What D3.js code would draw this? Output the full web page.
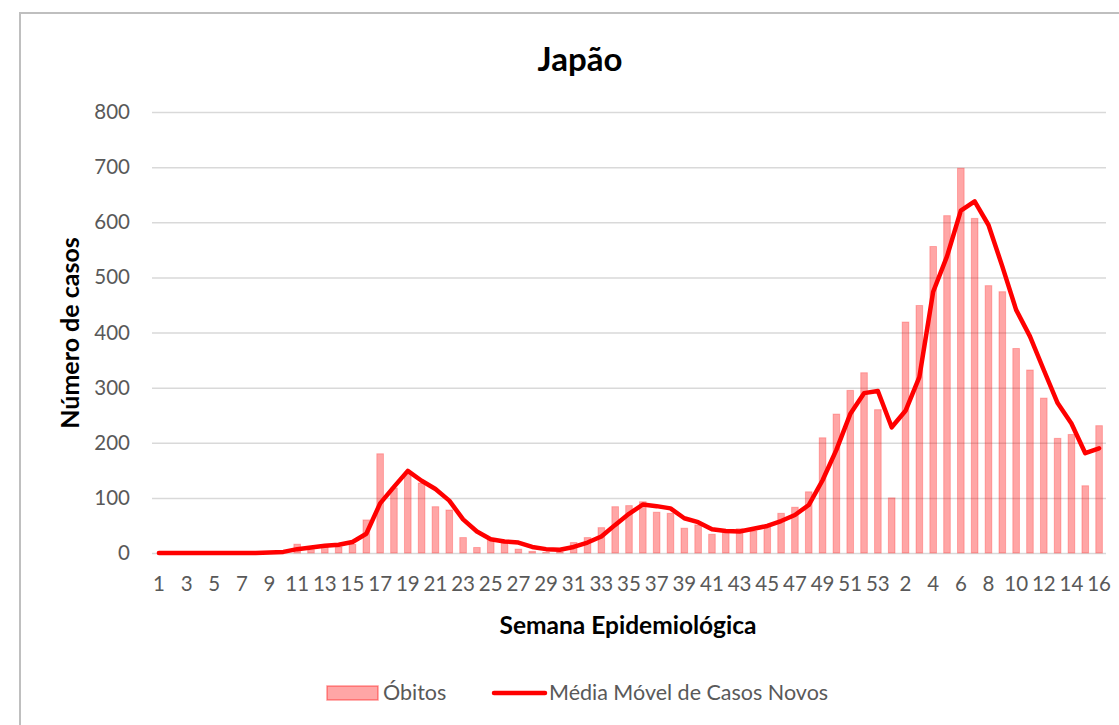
<!DOCTYPE html>
<html>
<head>
<meta charset="utf-8">
<script src="https://cdn.jsdelivr.net/npm/d3@7"></script>
<style>
    body { margin: 0; background: #fff; }
    #chartDiv { width: 1119px; height: 725px; }
    text { font-family: Lato, "Open Sans", sans-serif; }
</style>
</head>
<body>
<div id="chartDiv"></div>
<script>
// semanas: 2020 (1..53) e depois 2021 (1..16)
const weeks2020 = d3.range(1, 54)
const weeks2021 = d3.range(1, 17)

// obitos por semana (barras)
const obitos2020 = [0, 0, 0, 0, 0, 0, 0, 0, 0, 0,
    16, 6, 11, 11, 16, 60, 180, 118, 145, 127,
    84, 78, 28, 10, 25, 18, 7, 3, 1, 2,
    19, 28, 46, 84, 86, 93, 74, 72, 45, 51,
    34, 37, 44, 40, 48, 72, 83, 111, 209, 252,
    295, 327, 260]
const obitos2021 = [100, 419, 449, 556, 612, 698, 607, 485, 474, 371,
    332, 281, 208, 215, 122, 231]

// media movel de casos novos (linha)
const media2020 = [0, 0, 0, 0, 0, 0, 0, 0, 1, 2,
    7, 10, 13, 15, 20, 35, 90, 120, 149, 131,
    116, 95, 61, 39, 25, 21, 19, 11, 7, 6,
    11, 19, 30, 51, 71, 88, 85, 81, 63, 56,
    43, 40, 39, 44, 49, 58, 69, 87, 132, 187,
    252, 290, 294]
const media2021 = [228, 258, 319, 474, 538, 621, 638, 595, 520, 441,
    393, 332, 272, 235, 181, 190]

const yTicks = [0, 100, 200, 300, 400, 500, 600, 700, 800]

// juntar tudo num array so
let data = []
weeks2020.forEach((w, i) => data.push({ key: '2020-' + w, label: w, obitos: obitos2020[i], media: media2020[i] }))
weeks2021.forEach((w, i) => data.push({ key: '2021-' + w, label: w, obitos: obitos2021[i], media: media2021[i] }))

let chartDiv = document.getElementById("chartDiv");
let width = 1119;
let height = 725;

let svg = d3.select(chartDiv).append("svg")
    .attr("width", width)
    .attr("height", height);

// moldura do grafico
svg.append('rect')
    .attr('x', 20)
    .attr('y', 13)
    .attr('width', width)
    .attr('height', height)
    .attr('fill', 'none')
    .attr('stroke', '#bfbfbf')
    .attr('stroke-width', 2);

const margin = {
    top: 112,
    right: 13,
    bottom: 172,
    left: 152
};

let x = d3.scaleBand()
    .domain(data.map(d => d.key))
    .range([margin.left, width - margin.right])
    .paddingInner(0.52)
    .paddingOuter(0.26);

let y = d3.scaleLinear()
    .domain([0, 800])
    .range([height - margin.bottom, margin.top]);

// grade horizontal
let yAxis = d3.axisLeft(y)
    .tickValues(yTicks)
    .tickSize(-(width - margin.left - margin.right))
    .tickPadding(22)
    .tickFormat(d3.format('d'));

let gy = svg.append('g')
    .attr('class', 'axis yAxis')
    .attr('transform', `translate(${margin.left}, 0)`)
    .call(yAxis);
gy.select('.domain').remove();
gy.selectAll('.tick line')
    .attr('stroke', '#d9d9d9')
    .attr('stroke-width', 1.5);
gy.selectAll('.tick text')
    .attr('fill', '#595959')
    .style('font-size', '20.5px');

// eixo x - so mostra um rotulo sim outro nao
let xAxis = d3.axisBottom(x)
    .tickSize(0)
    .tickPadding(23)
    .tickFormat((k, i) => i % 2 == 0 ? data[i].label : '');

let gx = svg.append('g')
    .attr('class', 'axis xAxis')
    .attr('transform', `translate(0, ${height - margin.bottom})`)
    .call(xAxis);
gx.select('.domain').remove();
gx.selectAll('.tick text')
    .attr('fill', '#595959')
    .style('font-size', '20.5px');

// barras dos obitos
svg.selectAll('rect.bar')
    .data(data, d => d.key)
    .enter()
    .append('rect')
    .attr('class', 'bar')
    .attr('x', d => x(d.key))
    .attr('width', x.bandwidth())
    .attr('y', d => y(d.obitos))
    .attr('height', d => y(0) - y(d.obitos))
    .attr('fill', '#ff0000')
    .attr('fill-opacity', 0.35)
    .attr('stroke', '#ff0000')
    .attr('stroke-opacity', 0.25)
    .attr('stroke-width', 1);

// linha da media movel
let line = d3.line()
    .x(d => x(d.key) + x.bandwidth() / 2)
    .y(d => y(d.media));

svg.append('path')
    .datum(data)
    .attr('class', 'mediaLine')
    .attr('d', line)
    .attr('fill', 'none')
    .attr('stroke', '#ff0000')
    .attr('stroke-width', 4.5)
    .attr('stroke-linejoin', 'round')
    .attr('stroke-linecap', 'round');

// titulo e rotulos dos eixos
svg.append('text')
    .attr('x', 580)
    .attr('y', 71)
    .style('text-anchor', 'middle')
    .style('font-size', '33px')
    .style('font-weight', 'bold')
    .attr('fill', '#000')
    .text('Japão');

svg.append('text')
    .attr('x', 628)
    .attr('y', 634)
    .style('text-anchor', 'middle')
    .style('font-size', '24.5px')
    .style('font-weight', 'bold')
    .attr('fill', '#000')
    .text('Semana Epidemiológica');

svg.append('text')
    .attr('transform', 'translate(79, 333) rotate(-90)')
    .style('text-anchor', 'middle')
    .style('font-size', '25px')
    .style('font-weight', 'bold')
    .attr('fill', '#000')
    .text('Número de casos');

// legenda
let legend = svg.append('g').attr('class', 'legend');

legend.append('rect')
    .attr('x', 327)
    .attr('y', 686)
    .attr('width', 51)
    .attr('height', 14)
    .attr('fill', '#ff0000')
    .attr('fill-opacity', 0.35)
    .attr('stroke', '#ff0000')
    .attr('stroke-opacity', 0.4)
    .attr('stroke-width', 1.5);

legend.append('text')
    .attr('x', 383)
    .attr('y', 700)
    .attr('fill', '#595959')
    .style('font-size', '21.5px')
    .text('Óbitos');

legend.append('line')
    .attr('x1', 494)
    .attr('x2', 545)
    .attr('y1', 693)
    .attr('y2', 693)
    .attr('stroke', '#ff0000')
    .attr('stroke-width', 4.5)
    .attr('stroke-linecap', 'round');

legend.append('text')
    .attr('x', 549)
    .attr('y', 700)
    .attr('fill', '#595959')
    .style('font-size', '21.5px')
    .text('Média Móvel de Casos Novos');
</script>
</body>
</html>
